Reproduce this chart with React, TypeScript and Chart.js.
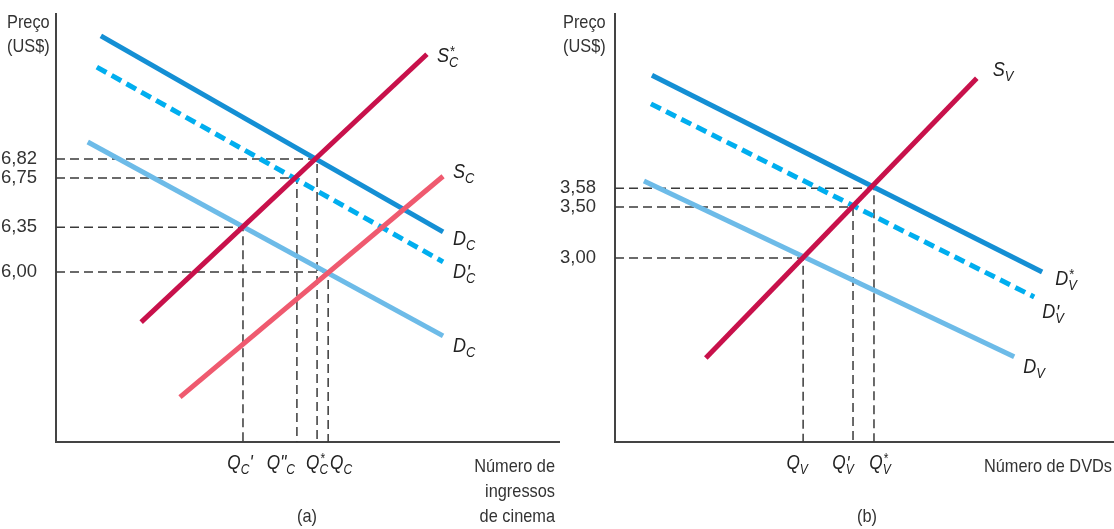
import { useEffect, useRef } from "react";
import { Chart, registerables } from "chart.js";

Chart.register(...registerables);

const FONT = "'Liberation Sans', Arial, sans-serif";
const SX = 0.86; // horizontal squeeze to imitate a condensed face

// ---------- Panel (a): cinema tickets (schematic units: quantity 0–100, price 0–100) ----------
const cinemaSupplyStar = [[16.9, 28.0], [73.6, 90.6]];
const cinemaSupply = [[24.6, 10.5], [76.8, 62.1]];
const cinemaDemandStar = [[8.9, 94.9], [76.8, 49.1]];
const cinemaDemandPrime = [[8.1, 87.6], [76.8, 42.1]];
const cinemaDemand = [[6.3, 70.1], [76.8, 24.8]];
const cinemaPriceLabels = ["6,82", "6,75", "6,35", "6,00"];
const cinemaPriceLevels = [66.1, 61.7, 50.2, 39.7];
const cinemaQuantityLevels = [51.8, 47.8, 37.1, 54.0];

// ---------- Panel (b): DVDs ----------
const dvdSupply = [[18.2, 19.6], [72.5, 85.0]];
const dvdDemandStar = [[7.4, 85.7], [85.6, 39.7]];
const dvdDemandPrime = [[7.2, 79.0], [84.0, 33.9]];
const dvdDemand = [[5.8, 61.0], [80.0, 19.9]];
const dvdPriceLabels = ["3,58", "3,50", "3,00"];
const dvdPriceLevels = [59.3, 54.9, 43.0];
const dvdQuantityLevels = [51.9, 47.7, 37.7];

type Tok = { t: string; sup?: string; sub?: string };

function fillNarrow(ctx: CanvasRenderingContext2D, text: string, x: number, y: number, align: "left" | "right" | "center") {
  const w = ctx.measureText(text).width * SX;
  const sx = align === "right" ? x - w : align === "center" ? x - w / 2 : x;
  ctx.save();
  ctx.translate(sx, y);
  ctx.scale(SX, 1);
  ctx.textAlign = "left";
  ctx.textBaseline = "alphabetic";
  ctx.fillText(text, 0, 0);
  ctx.restore();
}

function drawRich(ctx: CanvasRenderingContext2D, toks: Tok[], x: number, y: number, size: number, align: "left" | "center") {
  const main = `italic ${size}px ${FONT}`;
  const small = `italic ${Math.round(size * 0.72)}px ${FONT}`;
  const supFont = (s: string) => (s === "'" ? main : small);
  let w = 0;
  const widths = toks.map((tk) => {
    ctx.font = main;
    const mw = ctx.measureText(tk.t).width * SX;
    let supw = 0;
    let subw = 0;
    if (tk.sup) {
      ctx.font = supFont(tk.sup);
      supw = ctx.measureText(tk.sup).width * SX;
    }
    if (tk.sub) {
      ctx.font = small;
      subw = ctx.measureText(tk.sub).width * SX;
    }
    const sw = Math.max(supw, subw);
    w += mw + sw;
    return [mw, sw];
  });
  let cx = align === "center" ? x - w / 2 : x;
  toks.forEach((tk, i) => {
    ctx.font = main;
    fillNarrow(ctx, tk.t, cx, y, "left");
    cx += widths[i][0];
    if (tk.sup) {
      ctx.font = supFont(tk.sup);
      fillNarrow(ctx, tk.sup, cx + 0.5, tk.sup === "'" ? y + 1 : y - size * 0.3, "left");
    }
    if (tk.sub) {
      ctx.font = small;
      fillNarrow(ctx, tk.sub, cx, y + size * 0.25, "left");
    }
    cx += widths[i][1];
  });
}

interface CurveSpec {
  pts: number[][];
  color: string;
  dash?: number[];
  order: number;
  label: Tok[];
  ldx: number;
  ldy: number;
}

interface PanelSpec {
  curves: CurveSpec[];
  priceLabels: string[];
  priceLevels: number[];
  qLevels: number[];
  qToks: Tok[][];
  qDx: number[];
  axisWidth: number;
  titleX: number;
  xTitle: string[];
  xTitleRight: number;
  tag: string;
  tagX: number;
}

function buildChart(canvas: HTMLCanvasElement, spec: PanelSpec) {
  const datasets: any[] = [];
  spec.curves.forEach((c) =>
    datasets.push({
      data: c.pts.map(([x, y]) => ({ x, y })),
      showLine: true,
      borderColor: c.color,
      borderWidth: 5,
      borderDash: c.dash || [],
      borderCapStyle: "butt",
      pointRadius: 0,
      fill: false,
      order: c.order,
    })
  );
  spec.priceLevels.forEach((p, i) => {
    const q = spec.qLevels[i];
    datasets.push({
      data: [
        { x: 0, y: p },
        { x: q, y: p },
        { x: q, y: 0 },
      ],
      showLine: true,
      borderColor: "#3a3a3a",
      borderWidth: 1.5,
      borderDash: [9, 5],
      pointRadius: 0,
      fill: false,
      order: 5,
    });
  });

  const labelPlugin = {
    id: "richLabels",
    afterDraw(chart: any) {
      const ctx: CanvasRenderingContext2D = chart.ctx;
      const xs = chart.scales.x;
      const ys = chart.scales.y;
      ctx.save();
      ctx.fillStyle = "#222";
      spec.curves.forEach((c) => {
        const [ex, ey] = c.pts[c.pts.length - 1];
        drawRich(ctx, c.label, xs.getPixelForValue(ex) + c.ldx, ys.getPixelForValue(ey) + c.ldy, 21, "left");
      });
      spec.qLevels.forEach((q, i) => {
        drawRich(ctx, spec.qToks[i], xs.getPixelForValue(q) + spec.qDx[i], ys.bottom + 27, 20, "center");
      });
      ctx.fillStyle = "#333";
      ctx.font = `19px ${FONT}`;
      fillNarrow(ctx, "Preço", spec.titleX, 28, "left");
      fillNarrow(ctx, "(US$)", spec.titleX, 52, "left");
      spec.xTitle.forEach((line, i) => fillNarrow(ctx, line, chart.width - spec.xTitleRight, 472 + 25 * i, "right"));
      fillNarrow(ctx, spec.tag, spec.tagX, 522, "center");
      ctx.restore();
    },
  };

  return new Chart(canvas, {
    type: "scatter",
    data: { datasets },
    plugins: [labelPlugin],
    options: {
      animation: false,
      responsive: false,
      devicePixelRatio: 1,
      layout: { padding: { top: 14, left: 0, right: 0, bottom: 0 } },
      plugins: { legend: { display: false }, tooltip: { enabled: false } },
      scales: {
        x: {
          type: "linear",
          min: 0,
          max: 100,
          grid: { display: false },
          ticks: { display: false },
          border: { color: "#444", width: 2 },
          afterFit: (s: any) => {
            s.height = 87;
            s.paddingLeft = 0;
            s.paddingRight = 0;
          },
        },
        y: {
          type: "linear",
          min: 0,
          max: 100,
          grid: { display: false },
          border: { color: "#444", width: 2 },
          afterBuildTicks: (s: any) => {
            s.ticks = spec.priceLevels.map((v) => ({ value: v }));
          },
          ticks: {
            autoSkip: false,
            padding: 11,
            color: "#333",
            font: { family: FONT, size: 18.5 },
            callback: (_v: any, i: number) => spec.priceLabels[i],
          },
          afterFit: (s: any) => {
            s.width = spec.axisWidth;
            s.paddingTop = 0;
            s.paddingBottom = 0;
          },
        },
      },
    } as any,
  });
}

const C_DARK = "#148fd4";
const C_DASH = "#00aeef";
const C_LIGHT = "#6dbbe8";
const C_CRIMSON = "#c8114b";
const C_PINK = "#ef5a6f";

export default function App() {
  const leftRef = useRef<HTMLCanvasElement>(null);
  const rightRef = useRef<HTMLCanvasElement>(null);

  useEffect(() => {
    const a = buildChart(leftRef.current!, {
      curves: [
        { pts: cinemaSupplyStar, color: C_CRIMSON, order: 0, label: [{ t: "S", sup: "*", sub: "C" }], ldx: 10, ldy: 8 },
        { pts: cinemaSupply, color: C_PINK, order: 0, label: [{ t: "S", sub: "C" }], ldx: 10, ldy: 2 },
        { pts: cinemaDemandStar, color: C_DARK, order: 1, label: [{ t: "D", sub: "C" }], ldx: 10, ldy: 13 },
        { pts: cinemaDemandPrime, color: C_DASH, dash: [11, 6], order: 1, label: [{ t: "D", sup: "'", sub: "C" }], ldx: 10, ldy: 16 },
        { pts: cinemaDemand, color: C_LIGHT, order: 1, label: [{ t: "D", sub: "C" }], ldx: 10, ldy: 16 },
      ],
      priceLabels: cinemaPriceLabels,
      priceLevels: cinemaPriceLevels,
      qLevels: cinemaQuantityLevels,
      qToks: [
        [{ t: "Q", sup: "*", sub: "C" }],
        [{ t: "Q\"", sub: "C" }],
        [{ t: "Q", sub: "C" }, { t: "'" }],
        [{ t: "Q", sub: "C" }],
      ],
      qDx: [0, -16, -3, 13],
      axisWidth: 56,
      titleX: 7,
      xTitle: ["Número de", "ingressos", "de cinema"],
      xTitleRight: 5,
      tag: "(a)",
      tagX: 307,
    });
    const b = buildChart(rightRef.current!, {
      curves: [
        { pts: dvdSupply, color: C_CRIMSON, order: 0, label: [{ t: "S", sub: "V" }], ldx: 16, ldy: -2 },
        { pts: dvdDemandStar, color: C_DARK, order: 1, label: [{ t: "D", sup: "*", sub: "V" }], ldx: 13, ldy: 13 },
        { pts: dvdDemandPrime, color: C_DASH, dash: [11, 6], order: 1, label: [{ t: "D", sup: "'", sub: "V" }], ldx: 8, ldy: 21 },
        { pts: dvdDemand, color: C_LIGHT, order: 1, label: [{ t: "D", sub: "V" }], ldx: 9, ldy: 16 },
      ],
      priceLabels: dvdPriceLabels,
      priceLevels: dvdPriceLevels,
      qLevels: dvdQuantityLevels,
      qToks: [
        [{ t: "Q", sup: "*", sub: "V" }],
        [{ t: "Q", sup: "'", sub: "V" }],
        [{ t: "Q", sub: "V" }],
      ],
      qDx: [6, -10, -6],
      axisWidth: 55,
      titleX: 3,
      xTitle: ["Número de DVDs"],
      xTitleRight: 2,
      tag: "(b)",
      tagX: 307,
    });
    return () => {
      a.destroy();
      b.destroy();
    };
  }, []);

  return (
    <div style={{ position: "fixed", left: 0, top: 0, width: 1114, height: 529, background: "#fff" }}>
      <canvas ref={leftRef} width={560} height={529} style={{ position: "absolute", left: 0, top: 0, width: 560, height: 529 }} />
      <canvas ref={rightRef} width={554} height={529} style={{ position: "absolute", left: 560, top: 0, width: 554, height: 529 }} />
    </div>
  );
}
